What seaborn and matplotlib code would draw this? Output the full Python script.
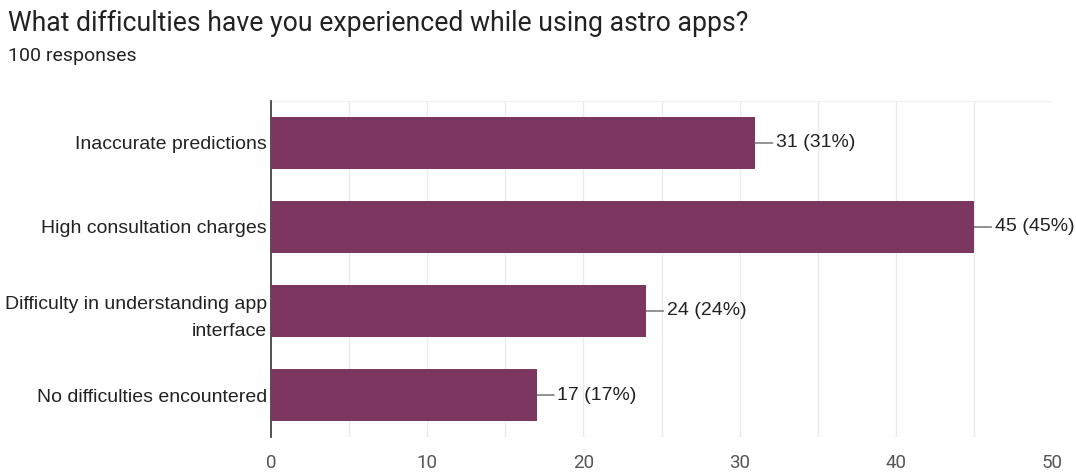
import matplotlib
matplotlib.use("Agg")
import matplotlib.pyplot as plt
import seaborn as sns
import pandas as pd

categories = ["Inaccurate predictions", "High consultation charges",
              "Difficulty in understanding app\ninterface", "No difficulties encountered"]
counts = [31, 45, 24, 17]
total = 100
xticks = [0, 10, 20, 30, 40, 50]

sns.set_theme(style="white")
plt.rcParams['font.family'] = ['Liberation Sans', 'DejaVu Sans']

df = pd.DataFrame({"cat": categories, "n": counts})

fig = plt.figure(figsize=(10.76, 4.73), dpi=100)
ax = fig.add_axes([0.2519, 0.0761, 0.9777 - 0.2519, 0.7865 - 0.0761])
sns.barplot(data=df, y="cat", x="n", color="#7c3761", width=0.63, ax=ax,
            saturation=1, edgecolor="none", zorder=3)

ax.set_xlim(0, 50)
ax.set_ylim(3.5, -0.5)
for v in range(5, 51, 5):
    ax.axvline(v, color="#ebebeb", lw=1, zorder=0)
ax.axhline(-0.5, color="#f0f0f0", lw=1, zorder=0)
ax.axhline(3.5, color="#f0f0f0", lw=1, zorder=0)

for s in ["top", "right", "bottom"]:
    ax.spines[s].set_visible(False)
ax.spines["left"].set_color("#444444")
ax.spines["left"].set_linewidth(1.3)

ax.set_xticks(xticks)
ax.set_xticklabels([str(t) for t in xticks], fontsize=13.5, color="#555555",
                   family=["Roboto", "DejaVu Sans"])
ax.tick_params(axis="x", length=0, pad=12)
ax.tick_params(axis="y", length=0, pad=3)
ax.set_yticks(range(len(categories)))
ax.set_yticklabels(categories, fontsize=14, color="#222222", multialignment="right",
                   linespacing=1.75)
ax.set_xlabel("")
ax.set_ylabel("")

for i, n in enumerate(counts):
    ax.annotate(f"{n} ({round(n * 100 / total)}%)", xy=(n, i), xytext=(15, 0),
                textcoords="offset points", va="center", ha="left",
                fontsize=14, color="#222222",
                arrowprops=dict(arrowstyle="-", color="#555555", lw=0.9,
                                shrinkA=0, shrinkB=0))

fig.text(0.0075, 0.935, "What difficulties have you experienced while using astro apps?",
         fontsize=19.2, color="#222222", family=["Roboto", "DejaVu Sans"], va="baseline")
fig.text(0.0075, 0.87, "100 responses", fontsize=14, color="#222222",
         family=["Roboto", "DejaVu Sans"], va="baseline")

fig.savefig("out.png", dpi=100)
